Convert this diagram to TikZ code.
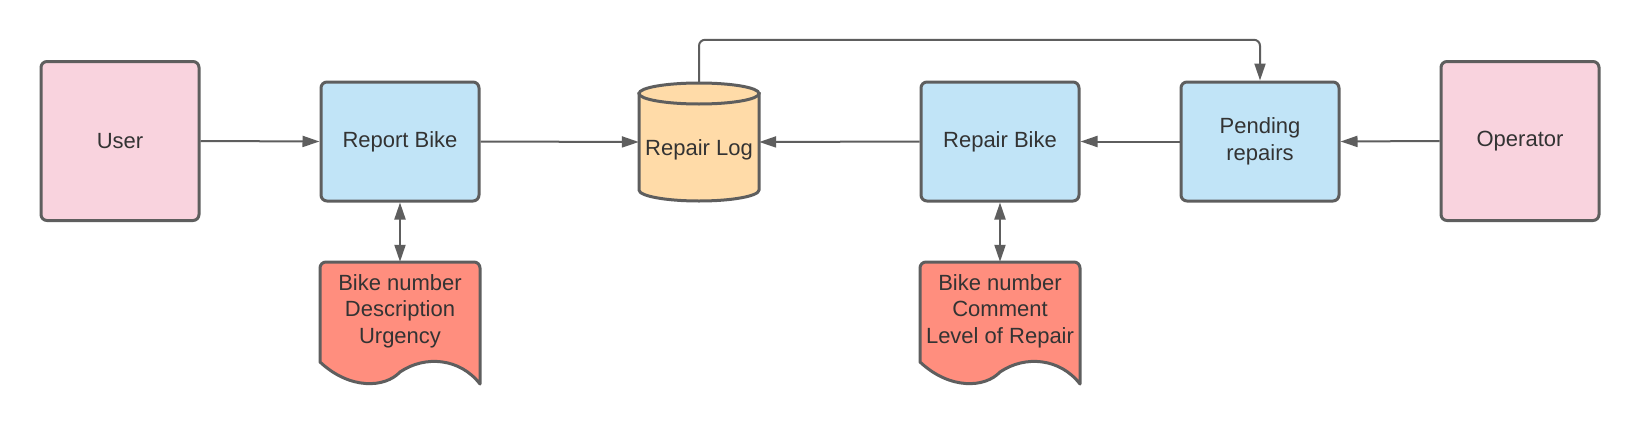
\documentclass[tikz,border=0pt]{standalone}
\usepackage{fontspec}
\setmainfont{Liberation Sans}
\usetikzlibrary{arrows.meta,calc}
\definecolor{edgec}{HTML}{5E5E5E}
\definecolor{txtc}{HTML}{333333}
\definecolor{pinkf}{HTML}{F9D3DE}
\definecolor{bluef}{HTML}{C1E4F7}
\definecolor{docf}{HTML}{FF8E7E}
\definecolor{dbf}{HTML}{FFDBA8}
\newcommand\docpath[1]{%
  \draw[docshape] ($(#1.center)+(-80,50)$) [rounded corners=6pt] -- ($(#1.center)+(-80,-50)$) -- ($(#1.center)+(80,-50)$) [sharp corners] -- ($(#1.center)+(80,72)$)
   .. controls ($(#1.center)+(60,46)$) and ($(#1.center)+(25,43)$) .. ($(#1.center)+(0,60)$)
   .. controls ($(#1.center)+(-15,76)$) and ($(#1.center)+(-50,78)$) .. ($(#1.center)+(-80,50)$) -- cycle;}
\begin{document}
\begin{tikzpicture}[x=1pt,y=-1pt,
  txtfont/.style={text=txtc, font=\fontsize{22}{26.5}\selectfont, align=center},
  actor/.style={draw=edgec, line width=3pt, fill=pinkf, rounded corners=6pt, minimum width=158pt, minimum height=159pt, inner sep=0pt, txtfont},
  process/.style={actor, fill=bluef, minimum height=119pt},
  docshape/.style={draw=edgec, line width=3pt, fill=docf, line join=round},
  docnode/.style={minimum width=160pt, minimum height=100pt, inner sep=0pt, txtfont},
  dbshape/.style={draw=edgec, line width=3pt, fill=dbf},
  tipshape/.tip={Triangle[length=17pt,width=11pt]},
  flow/.style={draw=edgec, line width=2pt, -tipshape},
  dflow/.style={draw=edgec, line width=2pt, tipshape-tipshape},
]
\useasboundingbox[fill=white] (0,0) rectangle (1640,423);

% nodes
\node[actor] (user) at (120,141) {User};
\node[process] (report) at (400,141.5) {Report Bike};
\node[process] (repair) at (1000,141.5) {Repair Bike};
\node[process] (pending) at (1260,141.5) {Pending\\repairs};
\node[actor] (operator) at (1520,141) {Operator};

% database cylinder
\node[minimum width=120pt, minimum height=118pt, inner sep=0pt] (log) at (699,142) {};
\path[dbshape] ($(log.center)+(-60,-48.5)$) -- ($(log.center)+(-60,48)$)
   arc[start angle=180, end angle=360, x radius=60pt, y radius=11pt] -- ($(log.center)+(60,-48.5)$) -- cycle;
\path[dbshape] ($(log.center)+(0,-48.5)$) ellipse[x radius=60pt, y radius=10.5pt];
\node[txtfont] (logtext) at (699,150) {Repair Log};

% documents
\node[docnode] (doc1) at (400,312) {};
\docpath{doc1}
\node[txtfont] (doc1text) at (400,311) {Bike number\\Description\\Urgency};
\node[docnode] (doc2) at (1000,312) {};
\docpath{doc2}
\node[txtfont] (doc2text) at (1000,311) {Bike number\\Comment\\Level of Repair};

% connectors
\draw[flow] (user.east) -- (report.west);
\draw[flow] (report.east) -- (log.west);
\draw[flow] (repair.west) -- (log.east);
\draw[flow] (pending.west) -- (repair.east);
\draw[flow] (operator.west) -- (pending.east);
\draw[flow, rounded corners=6pt] (log.north) -- ++(0,-43) -| (pending.north);
\draw[dflow] (report.south) -- (doc1.north);
\draw[dflow] (repair.south) -- (doc2.north);
\end{tikzpicture}
\end{document}
